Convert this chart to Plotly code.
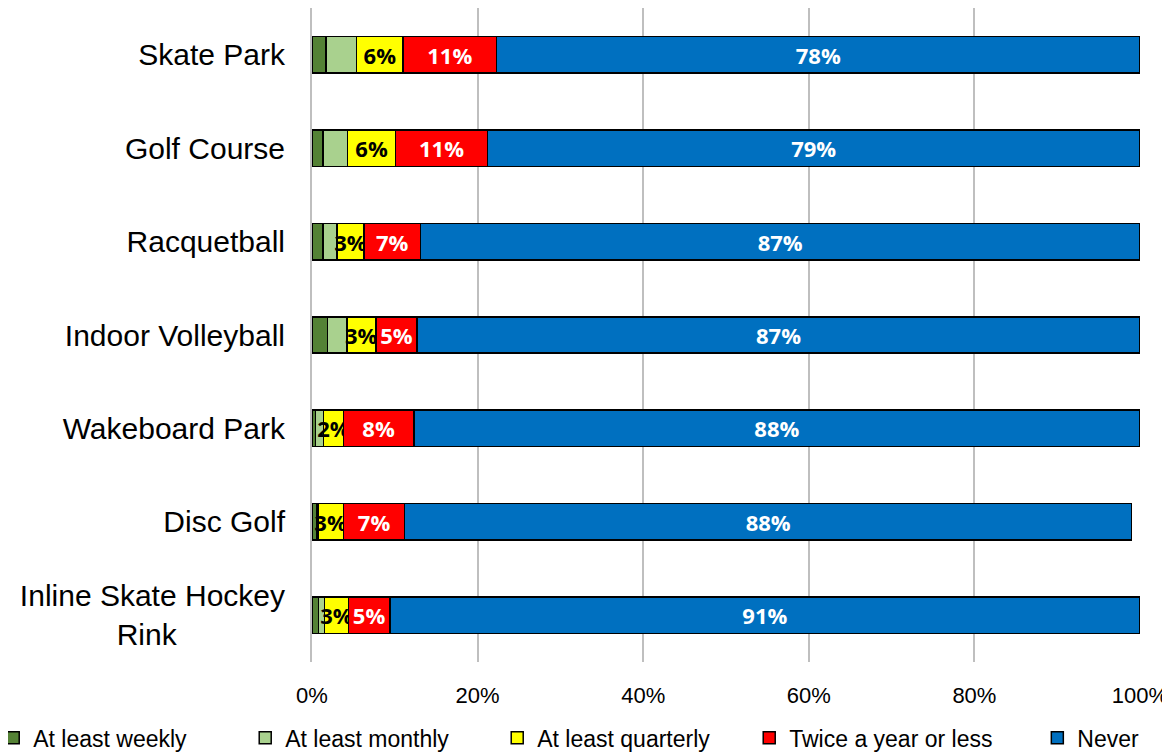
import plotly.graph_objects as go

categories = ["Skate Park", "Golf Course", "Racquetball", "Indoor Volleyball",
              "Wakeboard Park", "Disc Golf", "Inline Skate Hockey Rink"]
tick_labels = ["Skate Park", "Golf Course", "Racquetball", "Indoor Volleyball",
               "Wakeboard Park", "Disc Golf",
               "Inline Skate Hockey<br>Rink" + "\u00a0" * 13]

weekly = [1.7, 1.3, 1.3, 1.9, 0.4, 0.6, 0.8]
monthly = [3.7, 3.0, 1.7, 2.3, 1.0, 0.1, 0.7]
quarterly = [5.6, 5.8, 3.3, 3.5, 2.4, 3.1, 2.9]
twice = [11.3, 11.1, 6.8, 5.0, 8.5, 7.4, 5.0]
never = [77.7, 78.8, 86.9, 87.3, 87.7, 87.8, 90.6]

quarterly_labels = ["6%", "6%", "3%", "3%", "2%", "3%", "3%"]
twice_labels = ["11%", "11%", "7%", "5%", "8%", "7%", "5%"]
never_labels = ["78%", "79%", "87%", "87%", "88%", "88%", "91%"]

x_ticks = [0, 20, 40, 60, 80, 100]
x_tick_text = ["0%", "20%", "40%", "60%", "80%", "100%"]

series = [
    ("At least weekly", weekly, "#548235", None, "#000000", "legend"),
    ("At least monthly", monthly, "#a9d18e", None, "#000000", "legend"),
    ("At least quarterly", quarterly, "#ffff00", quarterly_labels, "#000000", "legend"),
    ("Twice a year or less", twice, "#ff0000", twice_labels, "#ffffff", "legend"),
    ("Never", never, "#0070c0", never_labels, "#ffffff", "legend2"),
]

fig = go.Figure()
for name, vals, color, labels, tcolor, leg in series:
    fig.add_trace(go.Bar(
        y=categories, x=vals, name=name, orientation="h",
        marker=dict(color=color, line=dict(color="#000000", width=1.5)),
        text=labels, textposition="inside" if labels else "none",
        insidetextanchor="middle", textangle=0, constraintext="none",
        textfont=dict(family="Open Sans", size=22, color=tcolor, weight="bold"),
        width=0.39, cliponaxis=False, legend=leg,
    ))

legend_common = dict(orientation="h", y=-0.116, yanchor="middle",
                     font=dict(size=23, family="Liberation Sans"),
                     itemwidth=30, bgcolor="rgba(0,0,0,0)")

fig.update_layout(
    barmode="stack",
    width=1162, height=746,
    margin=dict(l=304, r=30, t=0, b=92, autoexpand=False),
    paper_bgcolor="white", plot_bgcolor="white",
    font=dict(family="Liberation Sans", color="#000000"),
    showlegend=True,
    legend=dict(x=-0.385, xanchor="left", entrywidth=207, traceorder="normal",
                **legend_common),
    legend2=dict(x=0.876, xanchor="left", **legend_common),
    xaxis=dict(range=[0, 100], tickvals=x_ticks, ticktext=x_tick_text,
               showgrid=True, gridcolor="#bfbfbf", gridwidth=1.5,
               zeroline=False, showline=False, automargin=False,
               tickfont=dict(size=22), ticklabelstandoff=18),
    yaxis=dict(categoryorder="array", categoryarray=categories,
               tickvals=categories, ticktext=tick_labels,
               autorange="reversed", automargin=False,
               showline=True, linecolor="#bfbfbf", linewidth=2,
               tickfont=dict(size=30), ticklabelstandoff=19),
)

fig.write_html("out.html")
